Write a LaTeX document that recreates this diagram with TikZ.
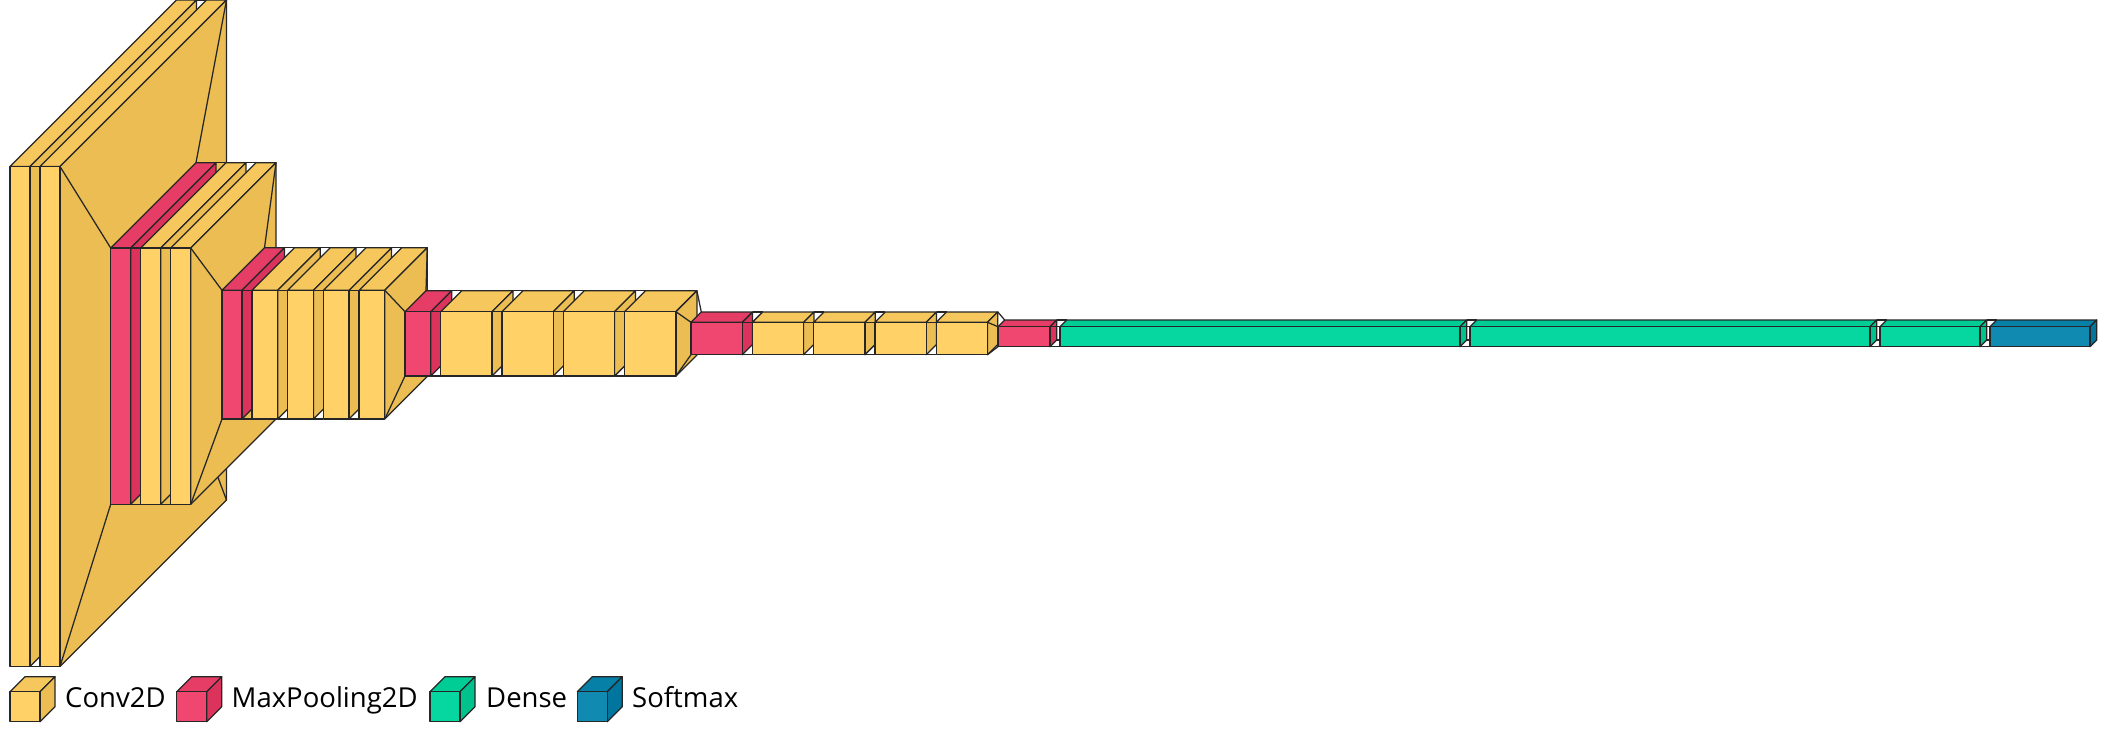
\documentclass[tikz,border=0pt]{standalone}
\usepackage{xcolor}
\usepackage{fontspec}
\setmainfont{Open Sans}
\definecolor{conv}{RGB}{255,209,102}
\definecolor{convtop}{RGB}{245,199,92}
\definecolor{convside}{RGB}{235,189,82}
\definecolor{pool}{RGB}{239,71,111}
\definecolor{pooltop}{RGB}{229,61,101}
\definecolor{poolside}{RGB}{219,51,91}
\definecolor{dense}{RGB}{6,214,160}
\definecolor{densetop}{RGB}{0,204,150}
\definecolor{denseside}{RGB}{0,194,140}
\definecolor{softmax}{RGB}{17,138,178}
\definecolor{softmaxtop}{RGB}{7,128,168}
\definecolor{softmaxside}{RGB}{0,118,158}
\def\maunet{black!85}
\usepackage{tikz}
\begin{document}
\begin{tikzpicture}[x=1pt,y=-1pt]
	\tikzset{
		net/.style={draw=\maunet,line width=1.25pt,line join=round},
		stylefont/.style={font=\fontsize{27.5}{27.5}\selectfont,text=black,inner sep=0pt,anchor=base west},
		cube/.pic={%
			\path[net,fill=\boxc top] (\bx,\yt) -- ({\bx+\d},{\yt-\d}) -- ({\bx+\w+\d},{\yt-\d}) -- ({\bx+\w},\yt) -- cycle;
			\path[net,fill=\boxc side] ({\bx+\w},\yt) -- ({\bx+\w+\d},{\yt-\d}) -- ({\bx+\w+\d},{\yb-\d}) -- ({\bx+\w},\yb) -- cycle;
			\path[net,fill=\boxc] (\bx,\yt) rectangle ({\bx+\w},\yb);
		}
	}
	\useasboundingbox (0,0) rectangle (2107,732);
	%% layers, back to front: x/width/top/bottom/depth/colour
	\foreach \bx/\w/\yt/\yb/\d/\boxc [count=\i,
		remember=\bx as \lx,remember=\w as \lw,remember=\yt as \lt,remember=\yb as \lb,remember=\d as \ld] in {
		10/20/166.5/666.5/166.5/conv,
		40/20/166.5/666.5/166.5/conv,
		110.7/20/248/504.3/85.3/pool,
		140.7/20/248/504.3/85.3/conv,
		170.7/20/248/504.3/85.3/conv,
		222/20/290.3/419/42.5/pool,
		252/25.7/290.3/419/42.5/conv,
		287.7/25.7/290.3/419/42.5/conv,
		323.4/25.7/290.3/419/42.5/conv,
		359.1/25.7/290.3/419/42.5/conv,
		405/25.7/311.7/376/21/pool,
		440.7/51.3/311.7/376/21/conv,
		502/51.3/311.7/376/21/conv,
		563.3/51.3/311.7/376/21/conv,
		624.6/51.3/311.7/376/21/conv,
		691/51.3/322.3/354.7/10.3/pool,
		752.3/51.3/322.3/354.7/10.3/conv,
		813.6/51.3/322.3/354.7/10.3/conv,
		874.9/51.3/322.3/354.7/10.3/conv,
		936.2/51.3/322.3/354.7/10.3/conv,
		998/52/326.7/346.7/6.7/pool,
		1060/400/326.7/346.7/6.7/dense,
		1470/400/326.7/346.7/6.7/dense,
		1880/100/326.7/346.7/6.7/dense,
		1990/100/326.7/346.7/6.7/softmax}{
		\ifnum\i>1
			%% funnel lines from the last layer
			\draw[net] ({\lx+\lw},\lt) -- (\bx,\yt);
			\draw[net] ({\lx+\lw},\lb) -- (\bx,\yb);
			\draw[net] ({\lx+\lw+\ld},{\lt-\ld}) -- ({\bx+\d},{\yt-\d});
			\draw[net] ({\lx+\lw+\ld},{\lb-\ld}) -- ({\bx+\d},{\yb-\d});
		\fi
		\pic {cube};
	}
	%%
	\def\w{30}\def\d{15}\def\yt{691.7}\def\yb{721.7}
	\foreach \bx/\boxc/\tx/\name in {10/conv/65/Conv2D,176.7/pool/231.5/MaxPooling2D,430/dense/486/Dense,577.3/softmax/632/Softmax}{
		\pic {cube};
		\node[stylefont] (lb\boxc) at (\tx,707) {\name};
	}
\end{tikzpicture}
\end{document}
